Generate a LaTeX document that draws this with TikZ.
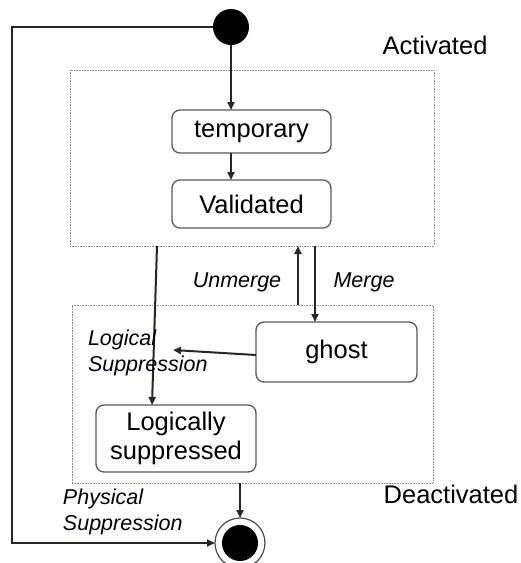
\documentclass[tikz,border=0pt]{standalone}
\usepackage{fontspec}
\setmainfont{Liberation Sans}
\usetikzlibrary{arrows.meta}
\begin{document}
\begin{tikzpicture}[x=1pt,y=-1pt,
  every node/.style={inner sep=0pt, outer sep=0pt},
  state/.style={draw=black!65, line width=1.3pt, rounded corners=8pt, fill=white,
    align=center, font=\fontsize{25.5}{29}\selectfont},
  region/.style={draw=black!45, line width=0.8pt, dash pattern=on 0.8pt off 0.8pt},
  link/.style={draw=black!85, line width=2pt, -{Triangle[length=8pt,width=7pt]}},
  title/.style={font=\fontsize{25.5}{29}\selectfont},
  event/.style={font=\fontsize{21.5}{26}\selectfont\itshape, text=black!95!blue, align=left}
]
\useasboundingbox (0,0) rectangle (521,563);

% composite regions
\node[region, minimum width=364pt, minimum height=176pt] (act) at (252,158) {};
\node[region, minimum width=361pt, minimum height=178pt] (deact) at (252.5,394) {};
\node[title] (actlbl) at (435,45) {Activated};
\node[title] (deactlbl) at (451,494) {Deactivated};

% pseudo states
\node[circle, fill=black, minimum size=36pt] (init) at (231,27) {};
\node[circle, draw=black!70, line width=1.2pt, fill=white, minimum size=50pt] (final) at (240,543) {};
\node[circle, fill=black, minimum size=36pt] (finalcore) at (240,543) {};

% states
\node[state, minimum width=159pt, minimum height=43pt] (temp) at (251.5,131.5) {temporary};
\node[state, minimum width=159pt, minimum height=48pt] (valid) at (251.5,204) {Validated};
\node[state, minimum width=161pt, minimum height=60pt] (ghost) at (336.5,352) {ghost};
\node[state, minimum width=160pt, minimum height=67pt] (logsup) at (176,438.5) {Logically\\suppressed};

% transitions
\draw[link] (init.south) -- (init.south |- temp.north);
\draw[link] (init.south |- temp.south) -- (init.south |- valid.north);

\coordinate (loopa) at (12,27);
\coordinate (loopb) at (12,543);
\draw[link] (init.west) -- (loopa) -- (loopb) -- (final.west);

\coordinate (lsstart) at (157,246);
\draw[link] (lsstart) -- (logsup.north -| 152,0);

\draw[link] (deact.north -| 298,0) -- (act.south -| 298,0);
\draw[link] (act.south -| 315,0) -- (ghost.north -| 315,0);

\coordinate (lsend) at (173,350);
\draw[link] (ghost.west |- 0,355) -- (lsend);

\draw[link] (final.north |- deact.south) -- (final.north);

% event labels
\node[event] (unmerge) at (237,282) {Unmerge};
\node[event] (merge) at (364,282) {Merge};
\node[event, anchor=west] (logical) at (88,353) {Logical\\Suppression};
\node[event, anchor=west] (physical) at (63,512) {Physical\\Suppression};
\end{tikzpicture}
\end{document}
